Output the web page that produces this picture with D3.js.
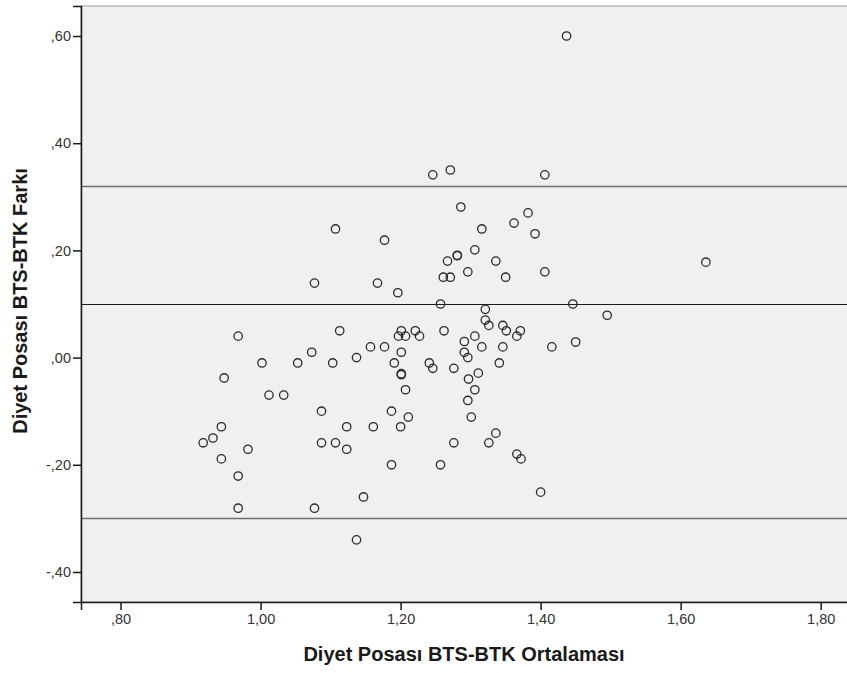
<!DOCTYPE html>
<html>
<head>
<meta charset="utf-8">
<script src="https://cdn.jsdelivr.net/npm/d3@7"></script>
<style>
    body { margin: 0; background: #ffffff; }
    svg { display: block; font-family: 'Liberation Sans', Arial, sans-serif; }
</style>
</head>
<body>
<svg id="chart" width="847" height="673"></svg>
<script>
// average of the two methods (x) and their difference (y), one entry per subject
const meanValues = [
    1.107, 1.177, 1.077, 1.167, 1.196, 0.968, 1.113, 1.197, 1.201, 1.207,
    1.221, 1.227, 1.157, 1.177, 1.073, 1.002, 1.053, 1.103, 1.137, 1.191,
    1.201, 1.201, 1.201, 0.948, 1.012, 1.033, 1.087, 1.187, 0.944, 0.932,
    0.918, 1.123, 1.161, 1.200, 0.982, 1.087, 1.107, 1.123, 0.944, 1.187,
    0.968, 1.147, 0.968, 1.077, 1.137, 1.246, 1.271, 1.406, 1.286, 1.382,
    1.362, 1.316, 1.392, 1.306, 1.281, 1.281, 1.267, 1.336, 1.261, 1.271,
    1.296, 1.350, 1.406, 1.437, 1.636, 1.495, 1.446, 1.450, 1.257, 1.321,
    1.321, 1.326, 1.346, 1.351, 1.371, 1.366, 1.262, 1.291, 1.306, 1.316,
    1.346, 1.416, 1.241, 1.246, 1.276, 1.291, 1.296, 1.341, 1.297, 1.311,
    1.207, 1.306, 1.296, 1.211, 1.301, 1.336, 1.276, 1.326, 1.366, 1.372,
    1.257, 1.400
];
const diffValues = [
    0.240, 0.219, 0.139, 0.139, 0.121, 0.040, 0.050, 0.040, 0.050, 0.040,
    0.050, 0.040, 0.020, 0.020, 0.010, -0.010, -0.010, -0.010, 0.000, -0.010,
    0.010, -0.030, -0.032, -0.038, -0.070, -0.070, -0.100, -0.100, -0.129, -0.150,
    -0.159, -0.129, -0.129, -0.129, -0.171, -0.159, -0.159, -0.171, -0.189, -0.200,
    -0.221, -0.260, -0.281, -0.281, -0.340, 0.341, 0.350, 0.341, 0.281, 0.270,
    0.251, 0.240, 0.231, 0.201, 0.190, 0.191, 0.180, 0.180, 0.150, 0.150,
    0.160, 0.150, 0.160, 0.600, 0.178, 0.079, 0.100, 0.029, 0.100, 0.090,
    0.070, 0.060, 0.060, 0.050, 0.050, 0.040, 0.050, 0.030, 0.040, 0.020,
    0.020, 0.020, -0.010, -0.020, -0.020, 0.010, 0.000, -0.010, -0.040, -0.029,
    -0.060, -0.060, -0.080, -0.111, -0.111, -0.141, -0.159, -0.159, -0.180, -0.189,
    -0.200, -0.251
];

// mean difference and the upper / lower limits of agreement
const limitLines = [0.320, -0.299];
const meanLine = [0.100];

const xTicks = [0.8, 1.0, 1.2, 1.4, 1.6, 1.8];
const yTicks = [0.6, 0.4, 0.2, 0.0, -0.2, -0.4];

const xTitle = 'Diyet Posası BTS-BTK Ortalaması';
const yTitle = 'Diyet Posası BTS-BTK Farkı';

function formatNumber (d) {
    // SPSS style: comma decimal, no leading zero
    let s = Math.abs(d).toFixed(2).replace('.', ',');
    if (s.charAt(0) === '0') {
        s = s.substring(1);
    }
    return (d < -1e-9 ? '-' : '') + s;
}

function drawChart () {
    const svg = d3.select('#chart');
    const left = 81, right = 848, top = 6, bottom = 602;

    const x = d3.scaleLinear().domain([0.7435, 1.839]).range([left, right]);
    const y = d3.scaleLinear().domain([-0.456, 0.656]).range([bottom, top]);

    svg.append('rect')
        .attr('x', left)
        .attr('y', top)
        .attr('width', right - left)
        .attr('height', bottom - top)
        .style('fill', '#f0f0f0')
        .style('stroke', '#999999')
        .style('stroke-width', '1px');

    svg.selectAll('.limit')
        .data(limitLines)
        .enter()
        .append('line')
        .attr('class', 'limit')
        .attr('x1', left)
        .attr('x2', right)
        .attr('y1', function (d) { return Math.round(y(d)) + 0.5; })
        .attr('y2', function (d) { return Math.round(y(d)) + 0.5; })
        .style('stroke', '#6e6e6e')
        .style('stroke-width', '1.6px');

    svg.selectAll('.mean')
        .data(meanLine)
        .enter()
        .append('line')
        .attr('class', 'mean')
        .attr('x1', left)
        .attr('x2', right)
        .attr('y1', function (d) { return Math.round(y(d)) + 0.5; })
        .attr('y2', function (d) { return Math.round(y(d)) + 0.5; })
        .style('stroke', '#1a1a1a')
        .style('stroke-width', '1.2px');

    const points = meanValues.map(function (d, i) { return {mx: d, diff: diffValues[i]}; });

    svg.selectAll('.point')
        .data(points)
        .enter()
        .append('circle')
        .attr('class', 'point')
        .attr('cx', function (d) { return x(d.mx); })
        .attr('cy', function (d) { return y(d.diff); })
        .attr('r', 4.2)
        .style('fill', 'none')
        .style('stroke', '#2b2b2b')
        .style('stroke-width', '1.3px');

    const xAxis = d3.axisBottom(x).tickValues(xTicks).tickFormat(formatNumber).tickSizeOuter(0).tickSize(8).tickPadding(4);
    const yAxis = d3.axisLeft(y).tickValues(yTicks).tickFormat(formatNumber).tickSizeOuter(0).tickSize(8).tickPadding(2);

    const gx = svg.append('g')
        .attr('transform', 'translate(0,' + bottom + ')')
        .call(xAxis);
    const gy = svg.append('g')
        .attr('transform', 'translate(' + left + ',0)')
        .call(yAxis);

    [gx, gy].forEach(function (g) {
        g.select('.domain').style('stroke', '#1a1a1a').style('stroke-width', '1.5px');
        g.selectAll('.tick line').style('stroke', '#1a1a1a').style('stroke-width', '1.5px');
        g.selectAll('.tick text')
            .style('font-family', "'Liberation Sans', Arial, sans-serif")
            .style('font-size', '14.5px')
            .style('fill', '#333333');
    });

    svg.append('text')
        .attr('x', 464)
        .attr('y', 661)
        .attr('text-anchor', 'middle')
        .style('font-size', '20px')
        .style('font-weight', 'bold')
        .style('fill', '#1a1a1a')
        .text(xTitle);

    svg.append('text')
        .attr('transform', 'translate(27,301) rotate(-90)')
        .attr('text-anchor', 'middle')
        .style('font-size', '20px')
        .style('font-weight', 'bold')
        .style('fill', '#1a1a1a')
        .text(yTitle);
}

drawChart();
</script>
</body>
</html>
